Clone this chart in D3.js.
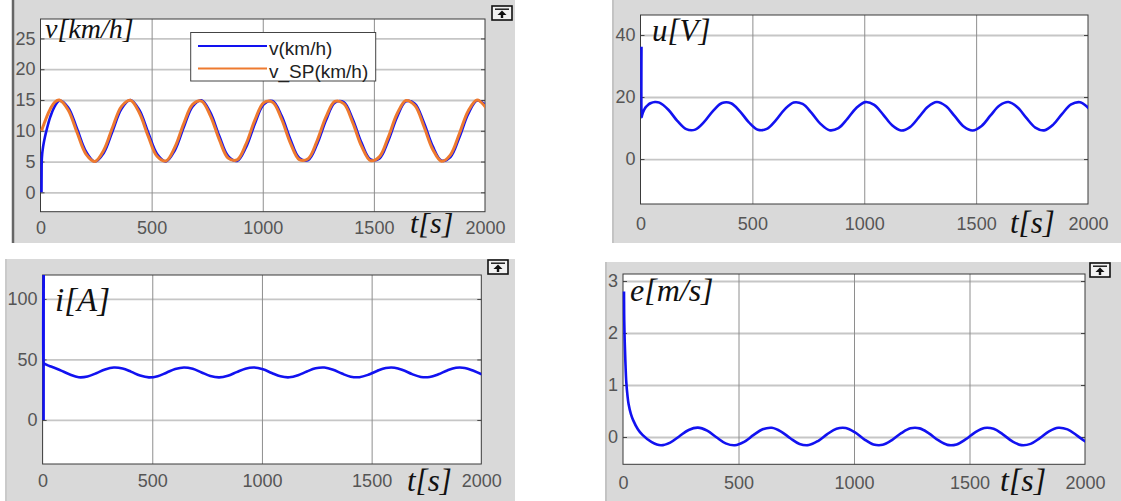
<!DOCTYPE html>
<html>
<head>
<meta charset="utf-8">
<script src="https://cdn.jsdelivr.net/npm/d3@7"></script>
<style>
  body { margin: 0; background: #fff; }
  svg { display: block; }
  .axis text { font-family: "Liberation Sans", Arial, sans-serif; font-size: 18px; fill: #555; }
  .axlabel { font-family: "Liberation Serif", "Times New Roman", serif; font-style: italic; fill: #111; }
  .legend text { font-family: "Liberation Sans", Arial, sans-serif; font-size: 19px; fill: #222; }
</style>
</head>
<body>
<svg id="chart" width="1121" height="501"></svg>
<script>
// simulation time [s] shared by all four scopes
const time = [0, 0.5, 1, 3, 6, 10, 15, 20, 30, 40, 60,
  80, 120, 160, 200, 240, 280, 320, 360, 400, 440, 480, 520, 560, 600, 640, 680, 720, 760, 800, 840,
  880, 920, 960, 1000, 1040, 1080, 1120, 1160, 1200, 1240, 1280, 1320, 1360, 1400, 1440, 1480, 1520, 1560,
  1600, 1640, 1680, 1720, 1760, 1800, 1840, 1880, 1920, 1960, 2000];

// v(km/h)
const speed = [0, 3.2, 5.0, 6.2, 7.1, 8.0, 8.9, 9.7, 11.1, 12.3, 14.0,
  14.9, 13.79, 10.31, 6.64, 5.00, 6.40, 9.98, 13.58, 15.00, 13.39, 9.72, 6.23, 5.02, 6.83, 10.57, 13.96,
  14.95, 12.94, 9.14, 5.87, 5.10, 7.30, 11.14, 14.29, 14.83, 12.45, 8.58, 5.57, 5.25, 7.81, 11.70, 14.56,
  14.65, 11.92, 8.03, 5.33, 5.47, 8.35, 12.24, 14.77, 14.40, 11.37, 7.51, 5.15, 5.74, 8.91, 12.74, 14.91, 14.10];

// v_SP(km/h)
const speedSP = [10, 10.05, 10.10, 10.30, 10.60, 10.99, 11.48, 11.95, 12.82, 13.59, 14.66,
  15.00, 13.38, 9.71, 6.22, 5.02, 6.84, 10.58, 13.97, 14.95, 12.92, 9.13, 5.86, 5.10, 7.32, 11.16, 14.30,
  14.83, 12.43, 8.56, 5.56, 5.26, 7.83, 11.72, 14.57, 14.64, 11.91, 8.01, 5.32, 5.47, 8.37, 12.25, 14.77,
  14.40, 11.35, 7.49, 5.15, 5.75, 8.93, 12.76, 14.91, 14.09, 10.78, 7.00, 5.04, 6.09, 9.51, 13.23, 14.99, 13.73];

// u[V]
const voltage = [36.2, 13.5, 13.6, 14.2, 14.9, 15.6, 16.3, 16.8, 17.5, 18.0, 18.4,
  18.19, 15.89, 12.31, 9.64, 9.49, 11.96, 15.54, 18.07, 18.01, 15.39, 11.82, 9.44, 9.71, 12.46, 16.03, 18.24,
  17.76, 14.88, 11.35, 9.30, 9.98, 12.98, 16.48, 18.35, 17.46, 14.35, 10.91, 9.22, 10.31, 13.52, 16.89, 18.40,
  17.11, 13.82, 10.51, 9.20, 10.68, 14.05, 17.27, 18.38, 16.72, 13.28, 10.16, 9.25, 11.10, 14.59, 17.60, 18.31, 16.28];

// i[A]
const current = [0, 125, 47.0, 46.6, 46.3, 45.9, 45.5, 45.1, 44.4, 43.7, 42.3,
  40.8, 37.5, 35.3, 35.92, 38.60, 41.71, 43.36, 42.54, 39.76, 36.70, 35.21, 36.21, 39.08, 42.08, 43.40, 42.23,
  39.28, 36.35, 35.20, 36.54, 39.56, 42.41, 43.38, 41.87, 38.80, 36.03, 35.25, 36.92, 40.03, 42.70, 43.31, 41.49,
  38.33, 35.77, 35.35, 37.32, 40.50, 42.95, 43.18, 41.07, 37.87, 35.55, 35.50, 37.75, 40.94, 43.14, 43.01, 40.62, 37.44];

// e[m/s]
const error = [2.8, 2.45, 2.25, 1.85, 1.45, 1.05, 0.80, 0.63, 0.44, 0.32, 0.15,
  0.04, -0.10, -0.16, -0.108, 0.015, 0.135, 0.180, 0.121, -0.005, -0.122, -0.159, -0.093, 0.035, 0.148, 0.177, 0.105,
  -0.024, -0.133, -0.155, -0.077, 0.054, 0.159, 0.173, 0.088, -0.044, -0.143, -0.150, -0.059, 0.073, 0.167, 0.166, 0.070,
  -0.062, -0.151, -0.142, -0.041, 0.091, 0.174, 0.157, 0.051, -0.080, -0.156, -0.132, -0.022, 0.108, 0.178, 0.146, 0.032, -0.096];

const xTicks = [0, 500, 1000, 1500, 2000];
const legendNames = ["v(km/h)", "v_SP(km/h)"];

const BLUE = "#1212f0";
const ORANGE = "#ee7a2f";
const BG = "#d9d9d9";

const svg = d3.select("#chart");

const panels = [
  {key: "v", bg: [12, 0, 503, 243], edge: "#666", plot: [40.5, 19, 485, 211.7], yDom: [-3.15, 28.16],
   yTicks: [0, 5, 10, 15, 20, 25], xPad: 10, label: "v[km/h]", lab: [45, 38, 28], tlab: [410, 233, 30],
   series: [[speed, BLUE, 2.6], [speedSP, ORANGE, 3]], button: [492, 6]},
  {key: "u", bg: [612, 0, 509, 243], edge: "#b5b5b5", plot: [640.5, 15, 1088, 204], yDom: [-14.5, 46.45],
   yTicks: [0, 20, 40], xPad: 13, label: "u[V]", lab: [652, 41, 31], tlab: [1010, 233, 31],
   series: [[voltage, BLUE, 2.6]], button: null},
  {key: "i", bg: [5, 259, 510, 242], edge: "#c0c0c0", plot: [42.6, 275, 481.3, 464], yDom: [-36.4, 119.8],
   yTicks: [0, 50, 100], xPad: 10, label: "i[A]", lab: [55, 311, 33], tlab: [407, 491, 31],
   series: [[current, BLUE, 2.6]], button: [488, 260]},
  {key: "e", bg: [605, 262, 516, 239], edge: "#b5b5b5", plot: [623, 274, 1085, 464.3], yDom: [-0.525, 3.135],
   yTicks: [0, 1, 2, 3], xPad: 12, label: "e[m/s]", lab: [630, 301, 32], tlab: [1000, 491, 32],
   series: [[error, BLUE, 2.6]], button: [1090, 263]}
];

function drawButton(g, bx, by) {
  const b = g.append("g").attr("transform", "translate(" + bx + "," + by + ")");
  b.append("rect").attr("x", 0).attr("y", 0).attr("width", 20).attr("height", 14)
    .attr("fill", "#f2f2f2").attr("stroke", "#111").attr("stroke-width", 1.6);
  b.append("line").attr("x1", 3).attr("x2", 17).attr("y1", 3.2).attr("y2", 3.2)
    .attr("stroke", "#111").attr("stroke-width", 1.4);
  b.append("path").attr("d", "M10,4.5 L14.5,9 L5.5,9 Z").attr("fill", "#111");
  b.append("rect").attr("x", 8.8).attr("y", 8.5).attr("width", 2.4).attr("height", 3.5).attr("fill", "#111");
}

panels.forEach(function(p) {
  const g = svg.append("g").attr("class", "panel " + p.key);
  const [px0, py0, px1, py1] = p.plot;

  // scope background
  g.append("rect").attr("x", p.bg[0]).attr("y", p.bg[1]).attr("width", p.bg[2]).attr("height", p.bg[3])
    .attr("fill", BG);
  g.append("line").attr("x1", p.bg[0] + 1).attr("x2", p.bg[0] + 1).attr("y1", p.bg[1]).attr("y2", p.bg[1] + p.bg[3])
    .attr("stroke", p.edge).attr("stroke-width", p.key === "v" ? 2.5 : 1.2);

  const x = d3.scaleLinear().domain([0, 2000]).range([px0, px1]);
  const y = d3.scaleLinear().domain(p.yDom).range([py1, py0]);

  g.append("rect").attr("x", px0).attr("y", py0).attr("width", px1 - px0).attr("height", py1 - py0)
    .attr("fill", "#fff");

  // grid
  g.append("g").attr("class", "grid y")
    .attr("transform", "translate(" + px0 + ",0)")
    .call(d3.axisLeft(y).tickValues(p.yTicks).tickSize(-(px1 - px0)).tickFormat(""))
    .call(s => s.select(".domain").remove())
    .selectAll("line").attr("stroke", "#c6c6c6").attr("stroke-width", 1.8);
  g.append("g").attr("class", "grid x")
    .attr("transform", "translate(0," + py1 + ")")
    .call(d3.axisBottom(x).tickValues([500, 1000, 1500]).tickSize(-(py1 - py0)).tickFormat(""))
    .call(s => s.select(".domain").remove())
    .selectAll("line").attr("stroke", "#8e8e8e").attr("stroke-width", 1);

  // small inner ticks at the frame
  g.append("g").attr("transform", "translate(" + px0 + ",0)")
    .call(d3.axisRight(y).tickValues(p.yTicks).tickSize(4).tickFormat(""))
    .call(s => s.select(".domain").remove())
    .selectAll("line").attr("stroke", "#444");
  g.append("g").attr("transform", "translate(" + px1 + ",0)")
    .call(d3.axisLeft(y).tickValues(p.yTicks).tickSize(4).tickFormat(""))
    .call(s => s.select(".domain").remove())
    .selectAll("line").attr("stroke", "#444");

  // frame (under the curves, so the start-up spikes stay visible)
  g.append("rect").attr("x", px0).attr("y", py0).attr("width", px1 - px0).attr("height", py1 - py0)
    .attr("fill", "none").attr("stroke", "#3a3a3a").attr("stroke-width", 1);

  // curves
  const clipId = "clip-" + p.key;
  g.append("clipPath").attr("id", clipId)
    .append("rect").attr("x", px0 - 1).attr("y", py0).attr("width", px1 - px0 + 1).attr("height", py1 - py0);
  const line = d3.line()
    .x(function(d) { return x(d[0]) + 1; })
    .y(function(d) { return y(d[1]); })
    .curve(d3.curveCatmullRom);
  p.series.forEach(function(s) {
    g.append("path")
      .datum(d3.zip(time, s[0]))
      .attr("clip-path", "url(#" + clipId + ")")
      .attr("fill", "none")
      .attr("stroke", s[1])
      .attr("stroke-width", s[2])
      .attr("stroke-linejoin", "round")
      .attr("d", line);
  });

  // axes labels
  g.append("g").attr("class", "axis y")
    .attr("transform", "translate(" + px0 + ",0)")
    .call(d3.axisLeft(y).tickValues(p.yTicks).tickSize(0).tickPadding(5).tickFormat(d3.format("d")))
    .call(s => s.select(".domain").remove());
  g.append("g").attr("class", "axis x")
    .attr("transform", "translate(0," + py1 + ")")
    .call(d3.axisBottom(x).tickValues(xTicks).tickSize(0).tickPadding(p.xPad).tickFormat(d3.format("d")))
    .call(s => s.select(".domain").remove());

  g.append("text").attr("class", "axlabel")
    .attr("x", p.lab[0]).attr("y", p.lab[1]).style("font-size", p.lab[2] + "px")
    .text(p.label);
  g.append("text").attr("class", "axlabel")
    .attr("x", p.tlab[0]).attr("y", p.tlab[1]).style("font-size", p.tlab[2] + "px")
    .text("t[s]");

  if (p.button) drawButton(g, p.button[0], p.button[1]);

  if (p.key === "v") {
    const lg = g.append("g").attr("class", "legend");
    lg.append("rect").attr("x", 190.7).attr("y", 32.5).attr("width", 185).attr("height", 48.5)
      .attr("fill", "#fff").attr("stroke", "#444").attr("stroke-width", 1);
    legendNames.forEach(function(name, k) {
      const yy = 46 + k * 22.5;
      lg.append("line").attr("x1", 198).attr("x2", 267).attr("y1", yy).attr("y2", yy)
        .attr("stroke", k === 0 ? BLUE : ORANGE).attr("stroke-width", 2.2);
      lg.append("text").attr("x", 269).attr("y", yy + 2.5).attr("dy", "0.35em").text(name);
    });
  }
});
</script>
</body>
</html>
